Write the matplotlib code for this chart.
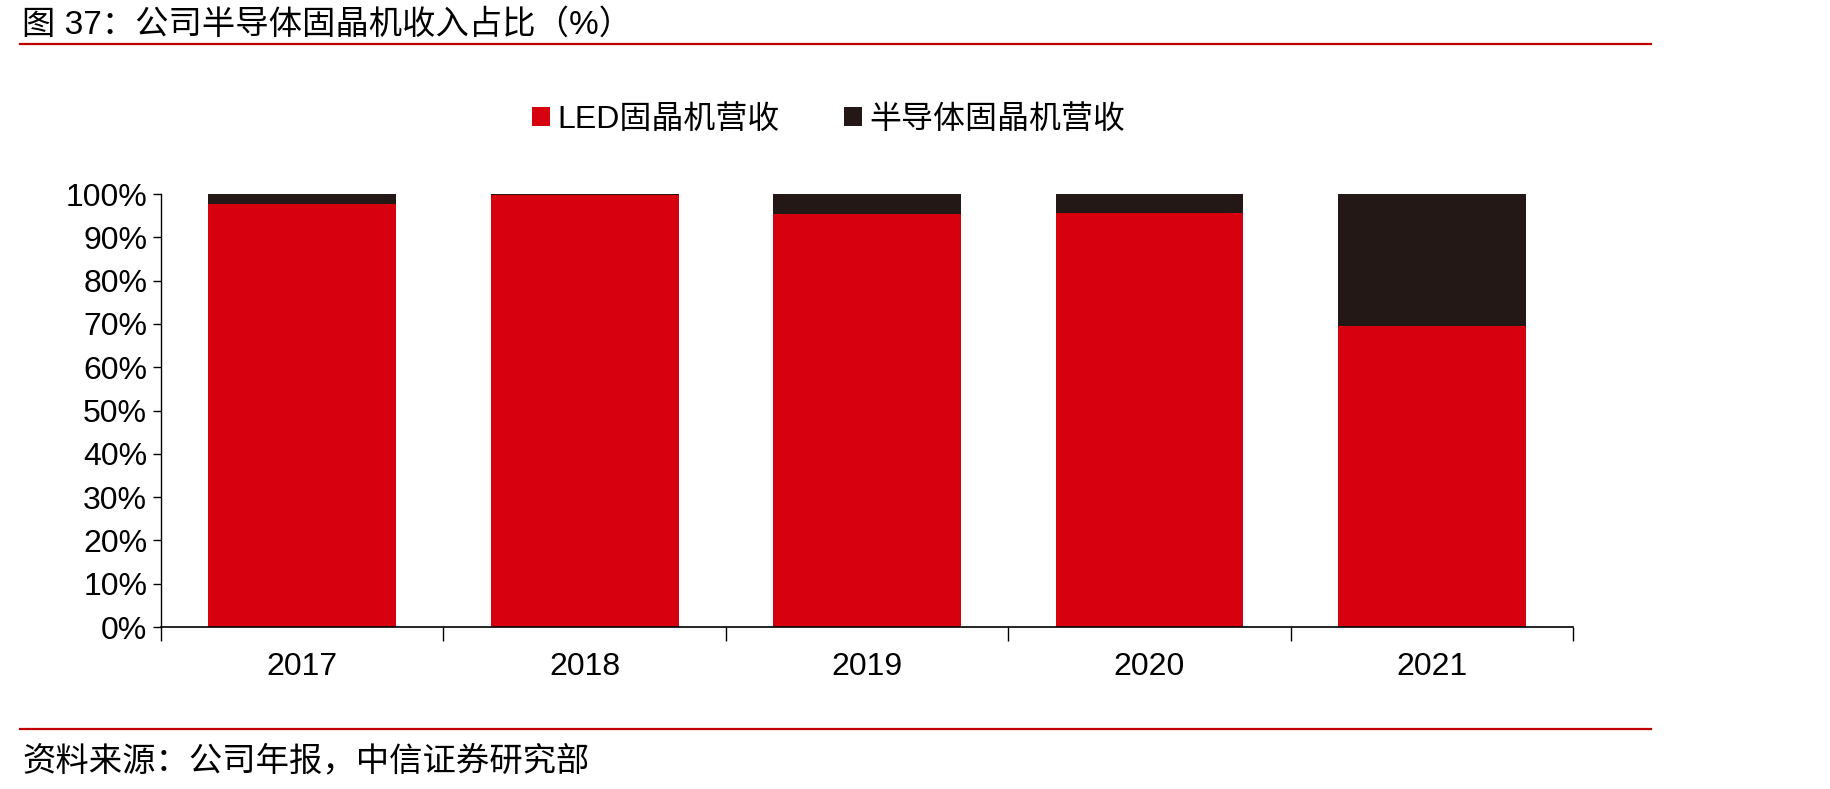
import numpy as np
import matplotlib.pyplot as plt
from matplotlib.lines import Line2D

plt.rcParams['font.family'] = ['Liberation Sans', 'Noto Sans CJK SC']

years = ['2017', '2018', '2019', '2020', '2021']
led_share = [97.6, 99.7, 95.4, 95.7, 69.5]
semi_share = [2.4, 0.3, 4.6, 4.3, 30.5]

red = '#D7000F'
dark = '#231815'

fig = plt.figure(figsize=(18.3, 7.89), dpi=100)
ax = fig.add_axes([0.088, 0.2053, 0.7716, 0.5487])

x = np.arange(len(years))
ax.bar(x, led_share, width=0.665, color=red, label='LED固晶机营收')
ax.bar(x, semi_share, width=0.665, bottom=led_share, color=dark, label='半导体固晶机营收')

ax.set_xlim(-0.5, len(years) - 0.5)
ax.set_ylim(0, 100)
ax.set_yticks(np.arange(0, 101, 10))
ax.set_yticklabels([f'{v}%' for v in range(0, 101, 10)], fontsize=23)
ax.set_xticks(x)
ax.set_xticklabels(years, fontsize=23)
ax.tick_params(axis='x', length=0, pad=18)
ax.set_xticks(np.arange(-0.5, len(years)), minor=True)
ax.tick_params(axis='x', which='minor', length=10, width=1, direction='out')
ax.tick_params(axis='y', length=6, width=1, direction='out', pad=4)
ax.spines['top'].set_visible(False)
ax.spines['right'].set_visible(False)
ax.spines['left'].set_linewidth(1)
ax.spines['bottom'].set_linewidth(1.2)

fig.legend(loc='center', bbox_to_anchor=(0.453, 0.848), ncol=2, frameon=False,
           fontsize=23, handlelength=0.55, handleheight=0.55, handletextpad=0.25,
           columnspacing=2.0)

fig.text(0.012, 0.968, '图 37：公司半导体固晶机收入占比（%）', fontsize=24, va='center', ha='left')
fig.add_artist(Line2D([0.011, 0.902], [0.944, 0.944], color='#C00000', lw=1.6))
fig.add_artist(Line2D([0.011, 0.902], [0.076, 0.076], color='#C00000', lw=1.6))
fig.text(0.012, 0.035, '资料来源：公司年报，中信证券研究部', fontsize=24, va='center', ha='left')

fig.savefig('out.png', dpi=100)
